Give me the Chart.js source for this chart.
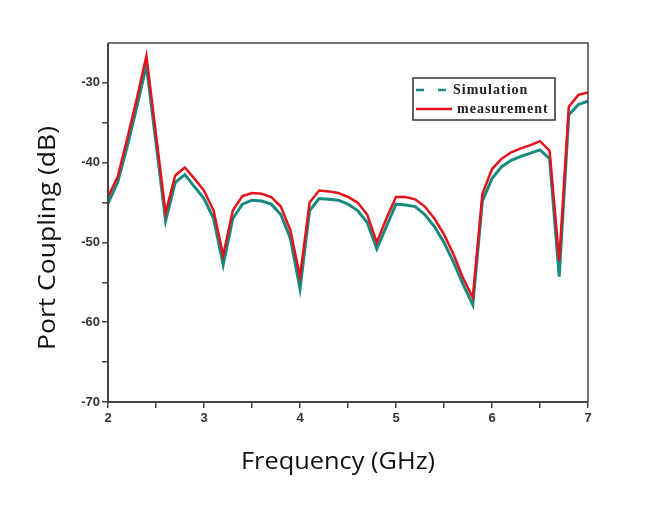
<!DOCTYPE html>
<html>
<head>
<meta charset="utf-8">
<script src="https://cdn.jsdelivr.net/npm/chart.js@4"></script>
<style>
html,body{margin:0;padding:0;background:#fff;}
canvas{display:block;}
</style>
</head>
<body>
<canvas id="c" width="650" height="507"></canvas>
<script>
const freq = [2.0,2.1,2.2,2.3,2.4,2.5,2.6,2.7,2.8,2.9,3.0,3.1,3.2,3.3,3.4,3.5,3.6,3.7,3.8,3.9,4.0,4.1,4.2,4.3,4.4,4.5,4.6,4.7,4.8,4.9,5.0,5.1,5.2,5.3,5.4,5.5,5.6,5.7,5.8,5.9,6.0,6.1,6.2,6.3,6.4,6.5,6.6,6.7,6.8,6.9,7.0];
const simulation = [-45.1,-42.5,-38.0,-33.0,-27.8,-37.5,-47.3,-42.5,-41.5,-43.0,-44.5,-47.0,-52.8,-47.0,-45.2,-44.7,-44.8,-45.2,-46.5,-49.5,-55.8,-46.0,-44.5,-44.6,-44.7,-45.2,-46.0,-47.5,-50.8,-48.0,-45.2,-45.3,-45.5,-46.5,-48.0,-50.0,-52.5,-55.3,-57.8,-44.8,-42.0,-40.5,-39.7,-39.2,-38.8,-38.4,-39.5,-54.3,-34.0,-32.7,-32.3];
const measurement = [-44.3,-41.8,-37.0,-32.0,-26.6,-36.5,-46.3,-41.6,-40.6,-42.0,-43.5,-46.0,-51.6,-46.0,-44.2,-43.8,-43.9,-44.3,-45.5,-48.5,-54.3,-45.0,-43.5,-43.6,-43.8,-44.3,-45.0,-46.5,-50.0,-47.0,-44.3,-44.3,-44.6,-45.5,-47.0,-49.0,-51.5,-54.5,-56.9,-43.9,-40.8,-39.5,-38.7,-38.2,-37.8,-37.3,-38.5,-52.3,-33.0,-31.5,-31.2];
const xTicks = [2,3,4,5,6,7];
const yTicks = [-30,-40,-50,-60,-70];
const seriesNames = ['Simulation','measurement'];
const xTitle = 'Frequency (GHz)';
const yTitle = 'Port Coupling (dB)';

const simColor = '#17897f';
const meaColor = '#e3121b';
const axisColor = '#444';

function fitText(ctx, text, cx, cy, targetW) {
  const w = ctx.measureText(text).width;
  const sx = targetW / w;
  ctx.save();
  ctx.translate(cx, cy);
  ctx.scale(sx, 1);
  ctx.fillText(text, 0, 0);
  ctx.restore();
}

const framePlugin = {
  id: 'frame',
  afterDraw(chart) {
    const {ctx, chartArea: a} = chart;
    ctx.save();
    ctx.strokeStyle = axisColor;
    ctx.lineWidth = 1.5;
    ctx.beginPath();
    ctx.moveTo(a.left, a.top); ctx.lineTo(a.right, a.top); ctx.lineTo(a.right, a.bottom);
    ctx.stroke();
    ctx.lineWidth = 2;
    ctx.beginPath();
    ctx.moveTo(a.left, a.top); ctx.lineTo(a.left, a.bottom); ctx.lineTo(a.right, a.bottom);
    ctx.stroke();
    // axis titles
    ctx.fillStyle = '#111';
    ctx.font = '23px "Open Sans", sans-serif';
    ctx.textAlign = 'center';
    ctx.textBaseline = 'middle';
    fitText(ctx, xTitle, 338, 462, 194);
    ctx.save();
    ctx.translate(48, 238);
    ctx.rotate(-Math.PI / 2);
    fitText(ctx, yTitle, 0, 0, 224);
    ctx.restore();
    // legend
    const lx = 413, ly = 78, lw = 142, lh = 42;
    ctx.fillStyle = '#fff';
    ctx.fillRect(lx, ly, lw, lh);
    ctx.strokeStyle = '#333';
    ctx.lineWidth = 1.5;
    ctx.strokeRect(lx, ly, lw, lh);
    ctx.lineWidth = 2.5;
    ctx.strokeStyle = simColor;
    ctx.setLineDash([8, 14]);
    ctx.beginPath(); ctx.moveTo(416, 90); ctx.lineTo(452, 90); ctx.stroke();
    ctx.setLineDash([]);
    ctx.strokeStyle = meaColor;
    ctx.beginPath(); ctx.moveTo(416, 109); ctx.lineTo(452, 109); ctx.stroke();
    ctx.fillStyle = '#222';
    ctx.font = 'bold 14px "Liberation Serif", serif';
    ctx.textAlign = 'left';
    ctx.textBaseline = 'middle';
    if (ctx.letterSpacing !== undefined) ctx.letterSpacing = '1px';
    ctx.fillText(seriesNames[0], 453, 90);
    ctx.fillText(seriesNames[1], 457, 109);
    if (ctx.letterSpacing !== undefined) ctx.letterSpacing = '0px';
    ctx.restore();
  }
};

new Chart(document.getElementById('c'), {
  type: 'line',
  data: {
    datasets: [
      {label: seriesNames[1], data: freq.map((f,i)=>({x:f,y:measurement[i]})), borderColor: meaColor, borderWidth: 2.5, pointRadius: 0, tension: 0, order: 0},
      {label: seriesNames[0], data: freq.map((f,i)=>({x:f,y:simulation[i]})), borderColor: simColor, borderWidth: 3, pointRadius: 0, tension: 0, order: 1}
    ]
  },
  options: {
    responsive: false,
    animation: false,
    events: [],
    layout: {padding: {left: 0, right: 62, top: 43, bottom: 0}},
    plugins: {legend: {display: false}, tooltip: {enabled: false}},
    scales: {
      x: {
        type: 'linear', min: 2, max: 7,
        afterFit(s) { s.height = 105; },
        afterBuildTicks(s) { const t=[]; for (let v=2; v<=7.001; v+=0.5) t.push({value: Math.round(v*10)/10}); s.ticks = t; },
        border: {display: false},
        grid: {drawOnChartArea: false, drawTicks: true, tickLength: 6, tickColor: axisColor, lineWidth: 1.5},
        ticks: {
          autoSkip: false, maxRotation: 0, padding: 3,
          color: '#333', font: {family: '"Liberation Sans", Arial, sans-serif', size: 13, weight: 'bold'},
          callback: v => xTicks.includes(v) ? String(v) : ''
        }
      },
      y: {
        type: 'linear', min: -70, max: -25,
        afterFit(s) { s.width = 108; },
        afterBuildTicks(s) { const t=[]; for (let v=-70; v<=-30; v+=5) t.push({value: v}); s.ticks = t; },
        border: {display: false},
        grid: {drawOnChartArea: false, drawTicks: true, tickLength: 6, tickColor: axisColor, lineWidth: 1.5},
        ticks: {
          autoSkip: false, padding: 2,
          color: '#333', font: {family: '"Liberation Sans", Arial, sans-serif', size: 13, weight: 'bold'},
          callback: v => yTicks.includes(v) ? String(v) : ''
        }
      }
    }
  },
  plugins: [framePlugin]
});
</script>
</body>
</html>
